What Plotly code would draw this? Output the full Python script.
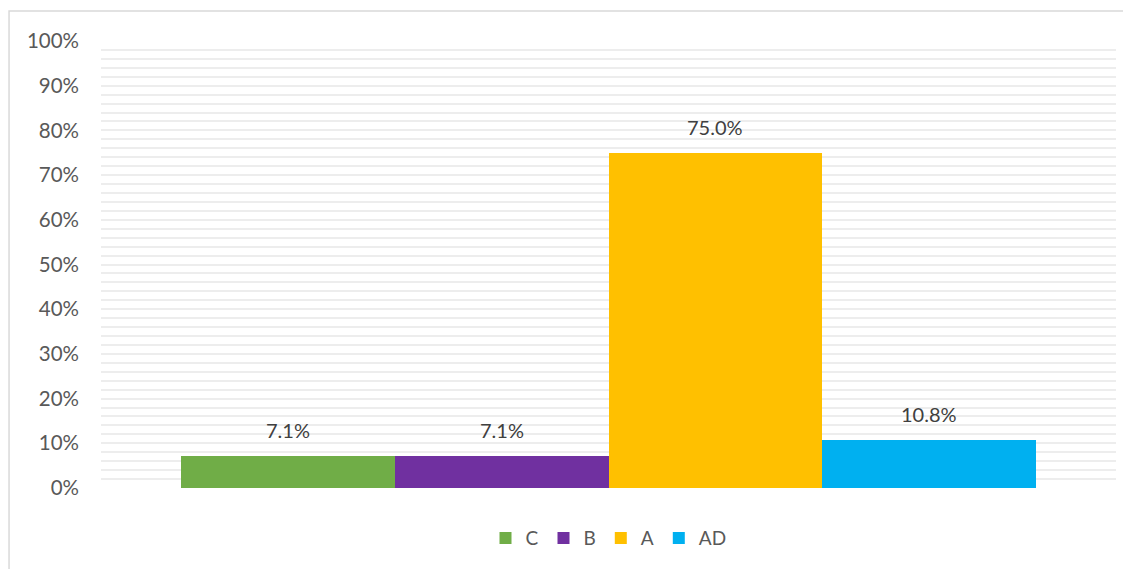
import plotly.graph_objects as go

categories = ["C", "B", "A", "AD"]
values = [0.071, 0.071, 0.750, 0.108]
colors = ["#70AD47", "#7030A0", "#FFC000", "#00B0F0"]
tick_vals = [0, 0.1, 0.2, 0.3, 0.4, 0.5, 0.6, 0.7, 0.8, 0.9, 1.0]
tick_text = ["0%", "10%", "20%", "30%", "40%", "50%", "60%", "70%", "80%", "90%", "100%"]

FONT = "Lato"

fig = go.Figure()
for cat, val, col in zip(categories, values, colors):
    fig.add_trace(go.Bar(
        x=[cat], y=[val], name=cat, marker=dict(color=col, line=dict(width=0)),
        width=1.0, hoverinfo="skip",
    ))
    fig.add_annotation(
        x=cat, y=val, text=f"{val:.1%}", showarrow=False,
        yanchor="bottom", yshift=12,
        font=dict(family=FONT, size=20, color="#404040"),
    )

fig.update_layout(
    width=1123, height=561,
    margin=dict(l=93, r=15, t=33, b=81),
    paper_bgcolor="white", plot_bgcolor="white",
    barmode="overlay", bargap=0,
    showlegend=True,
    legend=dict(
        orientation="h", x=0.5, xanchor="center", y=-0.112, yanchor="middle",
        font=dict(family=FONT, size=19, color="#595959"),
        itemclick=False,
    ),
    xaxis=dict(
        type="category", range=[-0.874, 3.874], showticklabels=False,
        showgrid=False, zeroline=False, showline=False, ticks="",
    ),
    yaxis=dict(
        range=[0, 1.0], tickvals=tick_vals, ticktext=tick_text,
        showgrid=True, gridcolor="#EDEDED", gridwidth=2,
        minor=dict(dtick=0.02, showgrid=True, gridcolor="#EDEDED", gridwidth=2),
        zeroline=False, showline=False, ticks="",
        ticklabelstandoff=21,
        tickfont=dict(family=FONT, size=20.5, color="#595959"),
    ),
    shapes=[dict(
        type="rect", xref="paper", yref="paper",
        x0=-0.0906, x1=1.03, y0=-0.2, y1=1.067,
        line=dict(color="#D9D9D9", width=1.5), layer="below",
    )],
)

fig.write_html("out.html")
